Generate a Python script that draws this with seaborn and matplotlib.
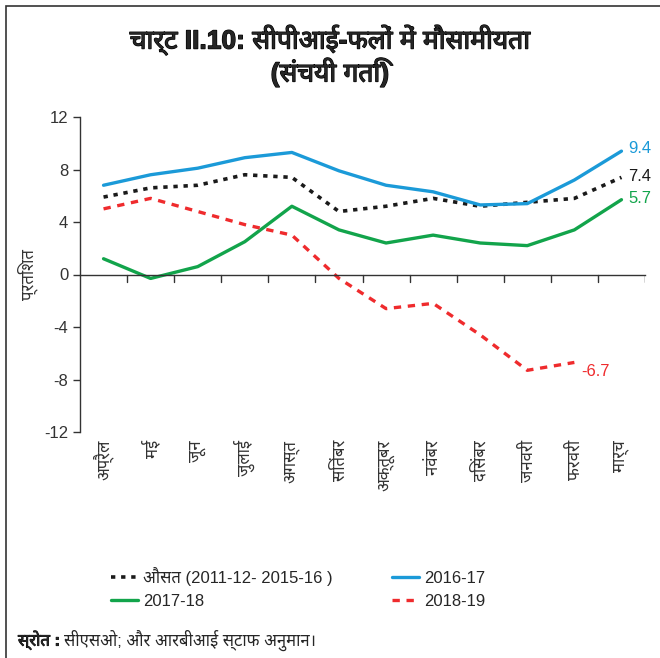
import numpy as np
import pandas as pd
import seaborn as sns
import matplotlib.pyplot as plt
import matplotlib.patheffects as pe
from matplotlib.patches import Rectangle

months = ['अप्रैल', 'मई', 'जून', 'जुलाई', 'अगस्त', 'सितंबर', 'अक्तूबर',
          'नवंबर', 'दिसंबर', 'जनवरी', 'फरवरी', 'मार्च']
avg_11_16 = [5.9, 6.6, 6.8, 7.6, 7.4, 4.8, 5.2, 5.8, 5.2, 5.5, 5.8, 7.4]
y2016_17 = [6.8, 7.6, 8.1, 8.9, 9.3, 7.9, 6.8, 6.3, 5.3, 5.4, 7.2, 9.4]
y2017_18 = [1.2, -0.3, 0.6, 2.5, 5.2, 3.4, 2.4, 3.0, 2.4, 2.2, 3.4, 5.7]
y2018_19 = [5.0, 5.8, 4.8, 3.8, 3.0, -0.3, -2.6, -2.2, -4.6, -7.3, -6.7, np.nan]
yticks = [-12, -8, -4, 0, 4, 8, 12]

sns.set_theme(style='white')
fams = ['Liberation Sans Narrow', 'Liberation Sans', 'Noto Sans Devanagari',
        'Lohit Devanagari', 'FreeSans', 'DejaVu Sans']
plt.rcParams['font.family'] = fams

df = pd.DataFrame({'x': range(len(months)), 'avg': avg_11_16,
                   'a': y2016_17, 'b': y2017_18, 'c': y2018_19})

fig = plt.figure(figsize=(6.6, 6.58), dpi=100)
ax = fig.add_axes([80 / 660, 1 - 432 / 658, 565 / 660, 315 / 658])

blue, green, red, black = '#1b9ad8', '#12a44b', '#ef2b2d', '#1a1a1a'
sns.lineplot(data=df, x='x', y='avg', ax=ax, color=black, lw=2.6,
             label='औसत (2011-12- 2015-16 )')
ax.lines[-1].set_linestyle((0, (1.2, 1.6)))
sns.lineplot(data=df, x='x', y='a', ax=ax, color=blue, lw=2.4, label='2016-17')
sns.lineplot(data=df, x='x', y='b', ax=ax, color=green, lw=2.4, label='2017-18')
sns.lineplot(data=df, x='x', y='c', ax=ax, color=red, lw=2.4, label='2018-19')
ax.lines[-1].set_linestyle((0, (2.2, 2.0)))

handles, labels = ax.get_legend_handles_labels()
ax.get_legend().remove()
order = [0, 2, 1, 3]
fig.legend([handles[i] for i in order], [labels[i] for i in order],
           ncol=2, frameon=False, loc='upper left',
           bbox_to_anchor=(96 / 660, 1 - 552 / 658), fontsize=12,
           handlelength=1.6, handletextpad=0.3, columnspacing=3.6,
           labelspacing=0.45)

ax.set_xlim(-0.5, 11.5)
ax.set_ylim(-12, 12)
ax.set_yticks(yticks)
ax.set_yticklabels([str(t) for t in yticks], fontsize=12, color='#333333')
ax.set_xticks(np.arange(-0.5, 12, 1))
ax.set_xticklabels([])
ax.tick_params(axis='x', direction='in', length=0)
ax.tick_params(axis='y', direction='out', length=5, width=1, color='#333333', left=True)
for xt in np.arange(0.5, 12, 1):
    ax.plot([xt, xt], [0, -0.6], color='#333333', lw=1)
ax.spines['right'].set_visible(False)
ax.spines['top'].set_visible(False)
ax.spines['bottom'].set_position(('data', 0))
for s in ['left', 'bottom']:
    ax.spines[s].set_color('#333333')
    ax.spines[s].set_linewidth(1)
ax.set_xlabel('')
ax.set_ylabel('प्रतिशत', fontsize=12, color='#333333')
ax.yaxis.set_label_coords(-0.075, 0.5)

for i, m in enumerate(months):
    ax.text(i, -0.025, m, transform=ax.get_xaxis_transform(), rotation=90,
            ha='center', va='top', fontsize=12, color='#333333')

ax.text(11.15, 9.6, '9.4', color=blue, fontsize=12, va='center')
ax.text(11.15, 7.5, '7.4', color=black, fontsize=12, va='center')
ax.text(11.15, 5.8, '5.7', color=green, fontsize=12, va='center')
ax.text(10.15, -7.4, '-6.7', color=red, fontsize=12, va='center')

bold = [pe.withStroke(linewidth=0.9, foreground='black')]
fig.text(0.5, 1 - 40 / 658, 'चार्ट II.10: सीपीआई-फलों में मौसामीयता',
         ha='center', va='center', fontsize=19, fontweight='bold',
         path_effects=bold)
fig.text(0.5, 1 - 72 / 658, '(संचयी गति)', ha='center', va='center',
         fontsize=19, fontweight='bold', path_effects=bold)
fig.text(18 / 660, 1 - 640 / 658, 'स्रोत :', ha='left', va='center',
         fontsize=12, fontweight='bold',
         path_effects=[pe.withStroke(linewidth=0.6, foreground='black')])
fig.text(64 / 660, 1 - 640 / 658, 'सीएसओ; और आरबीआई स्टाफ अनुमान।',
         ha='left', va='center', fontsize=12)

fig.patches.append(Rectangle((6 / 660, -0.1), 1.2, 1 - 6 / 658 + 0.1,
                             transform=fig.transFigure, fill=False,
                             edgecolor='#333333', lw=1.2))

fig.savefig('out.png', dpi=100)
